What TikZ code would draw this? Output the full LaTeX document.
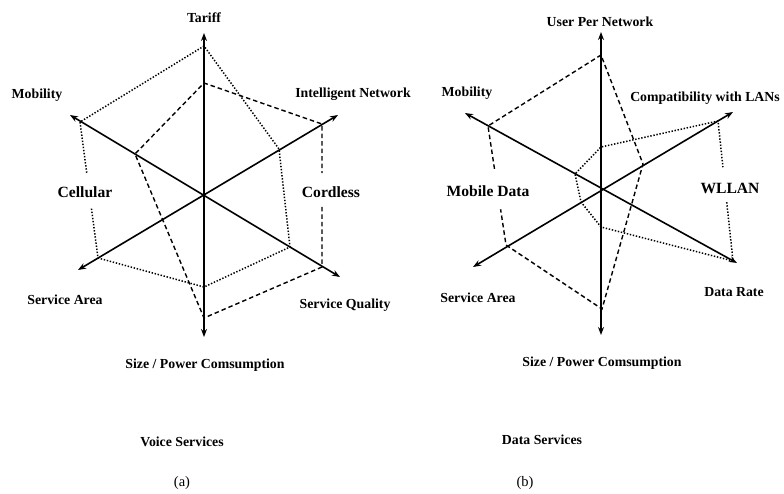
\documentclass[tikz,border=0pt]{standalone}
\usepackage{fontspec}
\setmainfont{Liberation Serif}
\usetikzlibrary{arrows.meta,calc}
\begin{document}
\begin{tikzpicture}[x=1pt,y=-1pt,
  axis/.style={line width=1.6pt,{Stealth[length=8pt,width=6pt]}-{Stealth[length=8pt,width=6pt]}},
  dotline/.style={line width=1.5pt,dash pattern=on 1.4pt off 1.7pt},
  dashline/.style={line width=1.4pt,dash pattern=on 4.5pt off 3pt},
  lab/.style={font=\fontsize{13.8}{15}\selectfont\bfseries,inner sep=0pt},
  big/.style={font=\fontsize{15.6}{17}\selectfont\bfseries,inner sep=0pt},
  sublabel/.style={font=\fontsize{14.5}{16}\selectfont,inner sep=0pt}]
\useasboundingbox (0,0) rectangle (784,493);

% ---------- (a) Voice services ----------
\coordinate (aT) at (204,33);
\coordinate (aB) at (204,337);
\coordinate (aMob) at (70,115);
\coordinate (aSQ) at (340,277);
\coordinate (aIN) at (338,115);
\coordinate (aSA) at (78,270);
\draw[axis] (aB) -- (aT);
\draw[axis] (aSQ) -- (aMob);
\draw[axis] (aSA) -- (aIN);

% Cellular (dotted)
\coordinate (c1) at (204,46);
\coordinate (c2) at (279,149);
\coordinate (c3) at (290,247);
\coordinate (c4) at (204,287);
\coordinate (c5) at (98,258);
\coordinate (c6) at (80,122);
\coordinate (cg1) at ($(c5)!0.373!(c6)$);
\coordinate (cg2) at ($(c5)!0.627!(c6)$);
\draw[dotline] (cg2) -- (c6) -- (c1) -- (c2) -- (c3) -- (c4) -- (c5) -- (cg1);

% Cordless (dashed)
\coordinate (d1) at (204,83);
\coordinate (d2) at (322,124);
\coordinate (d3) at (322,267);
\coordinate (d4) at (204,318);
\coordinate (d5) at (135,154);
\coordinate (dg1) at ($(d2)!0.343!(d3)$);
\coordinate (dg2) at ($(d2)!0.58!(d3)$);
\draw[dashline] (dg2) -- (d3) -- (d4) -- (d5) -- (d1) -- (d2) -- (dg1);

\node[lab] (lTariff) at (204,18) {Tariff};
\node[lab] (lMobA) at (37,95) {Mobility};
\node[lab] (lIN) at (353,94) {Intelligent Network};
\node[lab] (lSAA) at (65,300) {Service Area};
\node[lab] (lSQ) at (345,305) {Service Quality};
\node[lab] (lSizeA) at (205,365) {Size / Power Comsumption};
\node[big] (lCell) at (85,192) {Cellular};
\node[big] (lCord) at (331,192) {Cordless};
\node[lab] (lVoice) at (182,442) {Voice Services};
\node[sublabel] (la) at (182,483) {(a)};

% ---------- (b) Data services ----------
\coordinate (bT) at (601,32);
\coordinate (bB) at (601,335);
\coordinate (bMob) at (465,113);
\coordinate (bDR) at (737,263);
\coordinate (bCom) at (733,112);
\coordinate (bSA) at (473,267);
\draw[axis] (bB) -- (bT);
\draw[axis] (bDR) -- (bMob);
\draw[axis] (bSA) -- (bCom);

% Mobile Data (dashed)
\coordinate (m1) at (601,55);
\coordinate (m2) at (643,164);
\coordinate (m3) at (602,309);
\coordinate (m4) at (506,245);
\coordinate (m5) at (488,126);
\coordinate (mg1) at ($(m5)!0.36!(m4)$);
\coordinate (mg2) at ($(m5)!0.70!(m4)$);
\draw[dashline] (mg1) -- (m5) -- (m1) -- (m2) -- (m3) -- (m4) -- (mg2);

% WLLAN (dotted)
\coordinate (w1) at (718,121);
\coordinate (w2) at (601,147);
\coordinate (w3) at (575,174);
\coordinate (w4) at (581,202);
\coordinate (w5) at (601,227);
\coordinate (w6) at (733,261);
\coordinate (wg1) at ($(w1)!0.33!(w6)$);
\coordinate (wg2) at ($(w1)!0.58!(w6)$);
\draw[dotline] (wg2) -- (w6) -- (w5) -- (w4) -- (w3) -- (w2) -- (w1) -- (wg1);

\node[lab] (lUPN) at (600,22) {User Per Network};
\node[lab] (lMobB) at (467,93) {Mobility};
\node[lab] (lCom) at (705,98) {Compatibility with LANs};
\node[big] (lMD) at (488,191) {Mobile Data};
\node[big] (lWL) at (730,188) {WLLAN};
\node[lab] (lSAB) at (478,298) {Service Area};
\node[lab] (lDR) at (734,292) {Data Rate};
\node[lab] (lSizeB) at (602,363) {Size / Power Comsumption};
\node[lab] (lData) at (542,440) {Data Services};
\node[sublabel] (lb) at (525,483) {(b)};
\end{tikzpicture}
\end{document}
